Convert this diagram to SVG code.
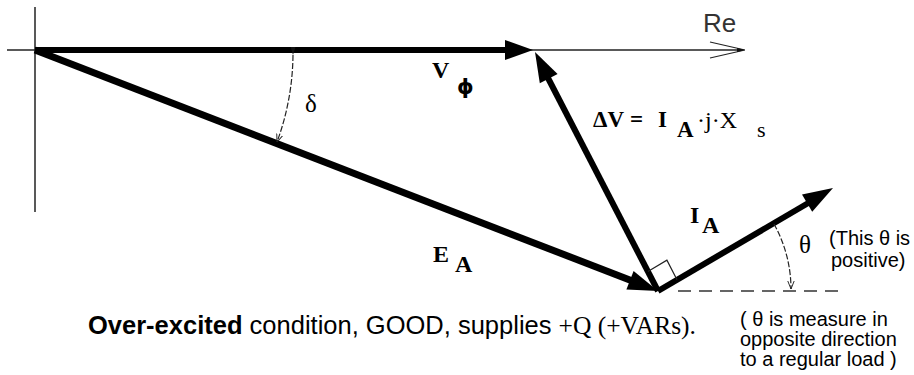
<svg xmlns="http://www.w3.org/2000/svg" width="914" height="375" viewBox="0 0 914 375">
<style>
.axis{stroke:#222;stroke-width:1.5;fill:none}
.vec{stroke:#000;stroke-width:6;fill:none}
.head{fill:#000;stroke:none}
.thin{stroke:#222;stroke-width:1.2;fill:none}
.dash{stroke:#333;stroke-width:1.5;fill:none;stroke-dasharray:13 8}
.arc{stroke:#222;stroke-width:1.2;fill:none;stroke-dasharray:6 2}
.serif{font-family:"Liberation Serif","Times New Roman",serif;fill:#000}
.sans{font-family:"Liberation Sans",Arial,sans-serif;fill:#000}
.b{font-weight:bold}
</style>
<defs>
<marker id="ah" viewBox="0 0 10 10" refX="10" refY="5" markerWidth="8" markerHeight="8" orient="auto" markerUnits="userSpaceOnUse">
<path d="M0,1 L10,5 L0,9" fill="none" stroke="#222" stroke-width="1.2"/>
</marker>
<marker id="ahf" viewBox="0 0 10 10" refX="10" refY="5" markerWidth="8" markerHeight="8" orient="auto" markerUnits="userSpaceOnUse">
<path d="M0,2 L10,5 L0,8 Z" fill="#111"/>
</marker>
</defs>
<g id="axes">
<line class="axis" x1="35" y1="7" x2="35" y2="212"/>
<line class="axis" x1="7" y1="50" x2="743" y2="50"/>
<path class="thin" d="M710,42 L745,50 M710,58 L745,50"/>
<path d="M737,48 L745,50 L737,52 Z" fill="#111"/>
<text class="sans" x="703" y="32" font-size="26" style="fill:#333">Re</text>
</g>
<g id="connectors">
<g id="V_phi">
<line class="vec" x1="35" y1="50" x2="510" y2="50"/>
<polygon class="head" points="505,40 533,50 505,60"/>
</g>
<g id="E_A">
<line class="vec" style="stroke-width:7" x1="35" y1="50" x2="635" y2="282"/>
<polygon class="head" points="633.6,270.9 658,291 626.4,289.5"/>
</g>
<g id="dV">
<line class="vec" x1="658" y1="291" x2="548" y2="78"/>
<polygon class="head" points="557.6,74.1 535,52 539.8,83.3"/>
</g>
<g id="I_A">
<line class="vec" x1="658" y1="291" x2="810" y2="202"/>
<polygon class="head" points="812.2,211.8 833,188 802,194.6"/>
</g>
<line id="ref" class="dash" x1="678" y1="291" x2="842" y2="291"/>
<path id="rightangle" class="thin" d="M647.9,271.4 L666.9,260.2 L677,279.8"/>
<path id="delta-arc" class="arc" d="M293,55 A259,259 0 0 1 277,142" marker-start="url(#ahf)" marker-end="url(#ah)"/>
<path id="theta-arc" class="arc" d="M774,224 A134,134 0 0 1 791,289" marker-end="url(#ah)"/>
</g>
<g id="labels">
<text class="serif b" x="432" y="78" font-size="24">V</text>
<text x="457" y="94" font-size="21" font-weight="bold" font-family="DejaVu Sans, sans-serif">ϕ</text>
<text class="serif" x="305" y="112" font-size="25">δ</text>
<text class="serif" y="127" font-size="23"><tspan class="b" x="593">ΔV</tspan><tspan class="b" x="630">=</tspan><tspan class="b" x="658">I</tspan><tspan class="b" x="677" y="137">A</tspan><tspan x="697" y="128" font-size="24">·j·X</tspan><tspan x="757" y="137" font-size="22">s</tspan></text>
<text class="serif b" x="690" y="223" font-size="24">I</text>
<text class="serif b" x="702" y="233" font-size="24">A</text>
<text class="serif b" x="433" y="262" font-size="24">E</text>
<text class="serif b" x="455" y="272" font-size="24">A</text>
<text class="serif" x="799" y="253" font-size="25">θ</text>
<text class="sans" x="829" y="245" font-size="20">(This θ is</text>
<text class="sans" x="831" y="267" font-size="20">positive)</text>
<text class="sans" x="740" y="326" font-size="20">( θ is measure in</text>
<text class="sans" x="740" y="346" font-size="20">opposite direction</text>
<text class="sans" x="740" y="366" font-size="20">to a regular load )</text>
<text class="sans" x="88" y="334" font-size="25.5"><tspan font-weight="bold">Over-excited</tspan> condition, GOOD, supplies <tspan font-family="Liberation Serif, serif">+Q (+VARs).</tspan></text>
</g>
</svg>
